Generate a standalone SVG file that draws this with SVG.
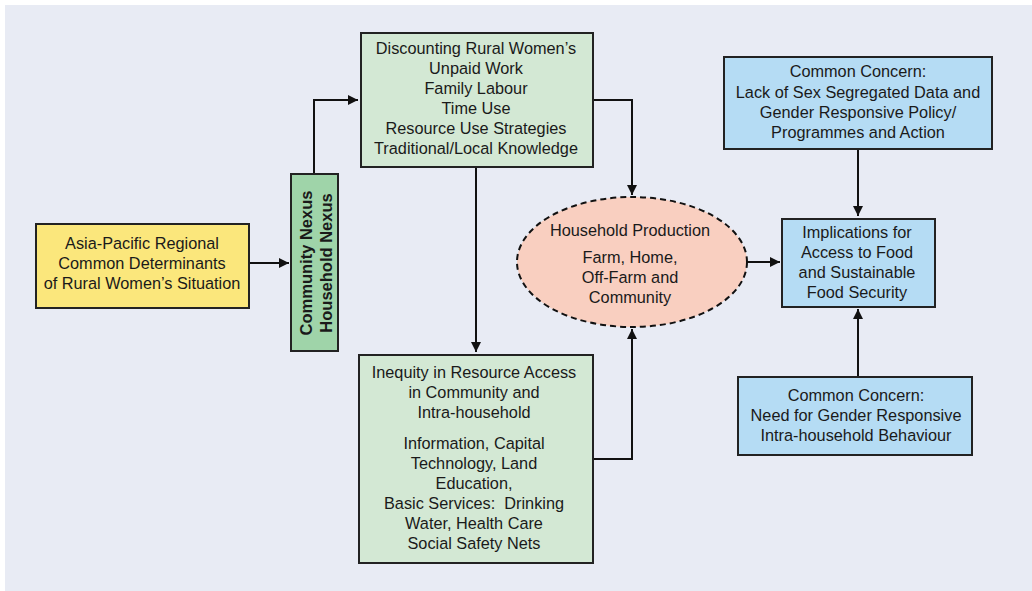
<svg xmlns="http://www.w3.org/2000/svg" width="1032" height="591" viewBox="0 0 1032 591">
<style>
text{font-family:"Liberation Sans",Arial,sans-serif;font-size:16.3px;fill:#1a1a1a;text-anchor:middle}
.b{stroke:#222;stroke-width:2}
.ln{fill:none;stroke:#111;stroke-width:2}
.bold{font-weight:bold;font-size:16.5px}
</style>
<defs>
<marker id="ah" viewBox="0 0 10 10" refX="10" refY="5" markerWidth="10" markerHeight="10" markerUnits="userSpaceOnUse" orient="auto">
<path d="M0,0 L10,5 L0,10 Z" fill="#111"/>
</marker>
</defs>
<rect x="5" y="5" width="1027" height="586" fill="#e8ebf4"/>
<g id="connectors">
<path class="ln" d="M249,263 H289" marker-end="url(#ah)"/>
<path class="ln" d="M314,174 V100 H358" marker-end="url(#ah)"/>
<path class="ln" d="M593,100 H632 V195" marker-end="url(#ah)"/>
<path class="ln" d="M476,167 V352" marker-end="url(#ah)"/>
<path class="ln" d="M593,459 H632 V329" marker-end="url(#ah)"/>
<path class="ln" d="M747,262 H780" marker-end="url(#ah)"/>
<path class="ln" d="M858,149 V216" marker-end="url(#ah)"/>
<path class="ln" d="M858,377 V309" marker-end="url(#ah)"/>
</g>
<g id="regional">
<rect class="b" x="36" y="224" width="213" height="84" fill="#fbe77c"/>
<text x="142" y="249">Asia-Pacific Regional</text>
<text x="142" y="269">Common Determinants</text>
<text x="142" y="289">of Rural Women’s Situation</text>
</g>
<g id="nexus">
<rect class="b" x="291" y="174" width="47" height="177" fill="#9fd4a9"/>
<text class="bold" transform="translate(312,263) rotate(-90)">Community Nexus</text>
<text class="bold" transform="translate(332,263) rotate(-90)">Household Nexus</text>
</g>
<g id="discounting">
<rect class="b" x="361" y="33" width="232" height="134" fill="#d3e8d4"/>
<text x="476" y="54">Discounting Rural Women’s</text>
<text x="476" y="74">Unpaid Work</text>
<text x="476" y="94">Family Labour</text>
<text x="476" y="114">Time Use</text>
<text x="476" y="134">Resource Use Strategies</text>
<text x="476" y="154">Traditional/Local Knowledge</text>
</g>
<g id="inequity">
<rect class="b" x="359" y="355" width="234" height="208" fill="#d3e8d4"/>
<text x="474" y="378">Inequity in Resource Access</text>
<text x="474" y="398">in Community and</text>
<text x="474" y="418">Intra-household</text>
<text x="474" y="449">Information, Capital</text>
<text x="474" y="469">Technology, Land</text>
<text x="474" y="489">Education,</text>
<text x="474" y="509" xml:space="preserve">Basic Services:  Drinking</text>
<text x="474" y="529">Water, Health Care</text>
<text x="474" y="549">Social Safety Nets</text>
</g>
<g id="household">
<ellipse cx="632" cy="262" rx="115" ry="65" fill="#f9cfc0" stroke="#111" stroke-width="2" stroke-dasharray="6,4"/>
<text x="630" y="236">Household Production</text>
<text x="630" y="263">Farm, Home,</text>
<text x="630" y="283">Off-Farm and</text>
<text x="630" y="303">Community</text>
</g>
<g id="concern-data">
<rect class="b" x="724" y="57" width="268" height="92" fill="#b5dcf4"/>
<text x="858" y="77">Common Concern:</text>
<text x="858" y="98">Lack of Sex Segregated Data and</text>
<text x="858" y="118">Gender Responsive Policy/</text>
<text x="858" y="138">Programmes and Action</text>
</g>
<g id="implications">
<rect class="b" x="782" y="219" width="153" height="88" fill="#b5dcf4"/>
<text x="857" y="238">Implications for</text>
<text x="857" y="258">Access to Food</text>
<text x="857" y="278">and Sustainable</text>
<text x="857" y="298">Food Security</text>
</g>
<g id="concern-behaviour">
<rect class="b" x="738" y="377" width="234" height="78" fill="#b5dcf4"/>
<text x="856" y="401">Common Concern:</text>
<text x="856" y="421">Need for Gender Responsive</text>
<text x="856" y="441">Intra-household Behaviour</text>
</g>
</svg>
